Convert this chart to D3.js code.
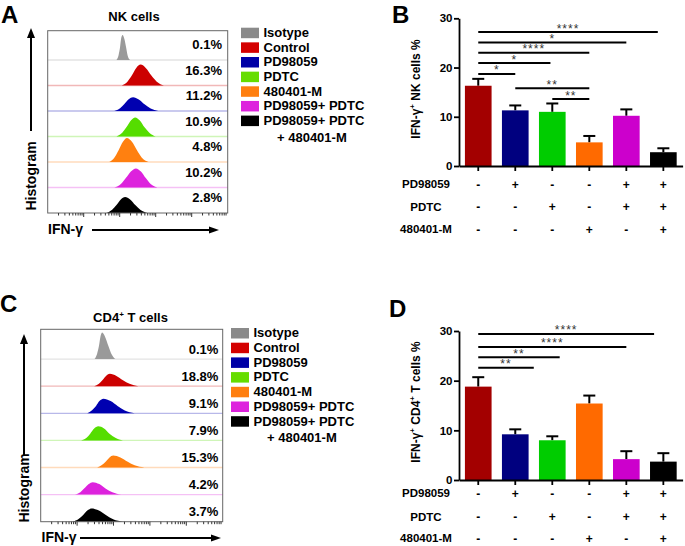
<!DOCTYPE html>
<html><head><meta charset="utf-8">
<script src="https://cdn.jsdelivr.net/npm/d3@7"></script>
<style>
html,body{margin:0;padding:0;background:#fff;}
svg{display:block;}
</style></head><body>
<svg id="chart" width="685" height="546"></svg>
<script>
// ---------------- DATA ----------------
const legendLabels = ["Isotype","Control","PD98059","PDTC","480401-M","PD98059+ PDTC","PD98059+ PDTC\n+ 480401-M"];
const legendColors = ["#8a8a8a","#d40000","#0000a6","#66dd00","#ff7f10","#dd22dd","#000000"];
const histColors   = ["#9a9a9a","#cc0000","#0000b0","#55dd00","#ff8010","#dd22dd","#000000"];

const nkPercent  = ["0.1%","16.3%","11.2%","10.9%","4.8%","10.2%","2.8%"];
const cd4Percent = ["0.1%","18.8%","9.1%","7.9%","15.3%","4.2%","3.7%"];

// histogram outlines: [IFN-γ (decades), height (fraction of row)]
const nkPeaks = [
  [[1.91,0],[1.97,.2],[2.01,.5],[2.04,.84],[2.08,.98],[2.13,.82],[2.18,.48],[2.22,.18],[2.29,0]],
  [[2.06,0],[2.22,.16],[2.34,.40],[2.46,.69],[2.58,.82],[2.73,.68],[2.88,.39],[3.03,.15],[3.23,0]],
  [[1.85,0],[2.01,.11],[2.13,.27],[2.25,.46],[2.37,.54],[2.53,.45],[2.69,.26],[2.86,.10],[3.07,0]],
  [[1.91,0],[2.07,.15],[2.19,.37],[2.31,.63],[2.43,.75],[2.56,.63],[2.69,.36],[2.83,.14],[3.00,0]],
  [[1.71,0],[1.86,.19],[1.97,.46],[2.09,.79],[2.20,.94],[2.34,.79],[2.48,.46],[2.61,.18],[2.80,0]],
  [[1.85,0],[2.04,.15],[2.17,.37],[2.31,.63],[2.45,.75],[2.59,.63],[2.73,.36],[2.86,.14],[3.05,0]],
  [[1.63,0],[1.79,.13],[1.91,.31],[2.03,.53],[2.15,.63],[2.29,.53],[2.44,.30],[2.58,.12],[2.77,0]]
];
const cd4Peaks = [
  [[1.48,0],[1.55,.2],[1.60,.48],[1.64,.82],[1.69,.98],[1.77,.82],[1.86,.48],[1.94,.2],[2.05,0]],
  [[1.47,0],[1.60,.09],[1.70,.23],[1.80,.39],[1.90,.46],[2.08,.38],[2.26,.22],[2.44,.09],[2.68,0]],
  [[1.28,0],[1.41,.11],[1.52,.27],[1.62,.46],[1.72,.54],[1.92,.45],[2.12,.26],[2.31,.10],[2.58,0]],
  [[1.11,0],[1.26,.10],[1.36,.25],[1.47,.44],[1.58,.52],[1.74,.44],[1.89,.25],[2.05,.10],[2.26,0]],
  [[1.55,0],[1.68,.09],[1.79,.22],[1.89,.37],[1.99,.44],[2.19,.37],[2.39,.21],[2.58,.08],[2.85,0]],
  [[0.94,0],[1.09,.09],[1.20,.23],[1.32,.39],[1.43,.46],[1.61,.39],[1.79,.22],[1.97,.09],[2.21,0]],
  [[0.88,0],[1.04,.10],[1.16,.24],[1.28,.41],[1.40,.49],[1.60,.41],[1.80,.24],[1.99,.09],[2.26,0]]
];

const barGroups = ["Control","PD98059","PDTC","480401-M","PD98059+ PDTC","PD98059+ PDTC + 480401-M"];
const barColors = ["#a30000","#00007f","#00cc00","#ff6a00","#cc00cc","#000000"];
const nkMean  = [16.3, 11.3, 11.0, 4.8, 10.2, 2.8];
const nkSem   = [1.4, 1.0, 1.7, 1.3, 1.3, 0.8];
const cd4Mean = [18.8, 9.2, 8.0, 15.4, 4.2, 3.7];
const cd4Sem  = [1.9, 1.0, 0.8, 1.6, 1.6, 1.7];
const yTicks = [0, 10, 20, 30];

const treatmentNames = ["PD98059","PDTC","480401-M"];
const pd98059Signs = ["-","+","-","-","+","+"];
const pdtcSigns    = ["-","-","+","-","+","+"];
const m480401Signs = ["-","-","-","+","-","+"];

// significance brackets: from/to bar index, height (% units), label
const nkCompFrom  = [0, 0, 0, 0, 0, 1, 2];
const nkCompTo    = [4.85, 4, 3, 1.95, 1, 3, 3];
const nkCompY     = [27.2, 25.1, 23.0, 20.9, 18.7, 15.8, 13.6];
const nkCompLabel = ["****","*","****","*","*","**","**"];
const cd4CompFrom  = [0, 0, 0, 0];
const cd4CompTo    = [4.75, 4, 2.2, 1.5];
const cd4CompY     = [29.4, 26.8, 24.7, 22.6];
const cd4CompLabel = ["****","****","**","**"];

// ---------------- DRAW ----------------
const FONT = '"Liberation Sans", Arial, Helvetica, sans-serif';
const svg = d3.select("#chart").style("font-family", FONT);

function txt(g, x, y, s, size, opts = {}) {
  return g.append("text").attr("x", x).attr("y", y)
    .attr("font-size", size).attr("font-weight", opts.weight || "bold")
    .attr("text-anchor", opts.anchor || "start").attr("fill", opts.fill || "#000").text(s);
}

function arrowUp(g, x, y1, tip) {
  g.append("line").attr("x1", x).attr("x2", x).attr("y1", y1).attr("y2", tip + 9)
    .attr("stroke", "#000").attr("stroke-width", 2);
  g.append("path").attr("d", `M${x},${tip}L${x - 4},${tip + 10}L${x + 4},${tip + 10}Z`).attr("fill", "#000");
}
function arrowRight(g, x1, tip, y) {
  g.append("line").attr("x1", x1).attr("x2", tip - 9).attr("y1", y).attr("y2", y)
    .attr("stroke", "#000").attr("stroke-width", 2);
  g.append("path").attr("d", `M${tip},${y}L${tip - 10},${y - 3.5}L${tip - 10},${y + 3.5}Z`).attr("fill", "#000");
}

function drawHistogram(p) {
  const g = svg.append("g");
  const x = d3.scaleLinear().domain([0, 5]).range([p.left, p.right]);
  const rows = d3.scaleBand().domain(d3.range(legendLabels.length)).range([p.top + p.topPad, p.bottom]);
  const h = rows.bandwidth();

  // faint coloured baselines
  g.selectAll("line.base").data(d3.range(legendLabels.length - 1)).join("line")
    .attr("x1", p.left).attr("x2", p.right)
    .attr("y1", i => rows(i) + h).attr("y2", i => rows(i) + h)
    .attr("stroke", i => d3.interpolateRgb(histColors[i], "#fff")(0.72)).attr("stroke-width", 1.3);

  const area = d3.area().x(d => x(d[0])).curve(d3.curveMonotoneX);
  p.peaks.forEach((pts, i) => {
    const base = rows(i) + h;
    g.append("path")
      .attr("d", area.y0(base).y1(d => base - d[1] * h)(pts))
      .attr("fill", histColors[i]);
  });

  // percentages
  p.percent.forEach((s, i) => txt(g, p.pctRight, rows(i) + h - p.pctLift, s, 13, { anchor: "end" }));

  // frame
  g.append("rect").attr("x", p.left).attr("y", p.top).attr("width", p.right - p.left)
    .attr("height", p.bottom - p.top).attr("fill", "none").attr("stroke", "#666").attr("stroke-width", 1);

  // log-like ticks under the frame
  const tickVals = [];
  for (let d = 0; d < 5; d++) for (let m = 1; m <= 9; m++) tickVals.push(d + Math.log10(m));
  g.selectAll("line.tk").data(tickVals.filter(v => v > 0.15)).join("line")
    .attr("x1", v => x(v)).attr("x2", v => x(v))
    .attr("y1", p.bottom).attr("y2", v => p.bottom + (Math.abs(v - Math.round(v)) < 1e-6 ? 4 : 2.5))
    .attr("stroke", "#333").attr("stroke-width", 1);

  // axis arrows and labels
  arrowUp(g, p.yArrowX, p.yArrowFrom, p.yArrowTip);
  g.append("text").attr("transform", `translate(${p.yArrowX + 5},${p.histLabelY}) rotate(-90)`)
    .attr("text-anchor", "middle").attr("font-size", 14).attr("font-weight", "bold").text("Histogram");
  txt(g, p.ifnX, p.ifnY, "IFN-γ", 14);
  arrowRight(g, p.xArrowFrom, p.xArrowTip, p.ifnY - 4);

  // title
  const t = g.append("text").attr("x", p.titleX).attr("y", p.titleY).attr("text-anchor", "middle")
    .attr("font-size", 13).attr("font-weight", "bold");
  p.title.forEach(part => {
    const ts = t.append("tspan").text(part.t);
    if (part.sup) ts.attr("font-size", 8).attr("dy", -5);
    else if (part.after) ts.attr("dy", 5);
  });

  // panel letter
  txt(g, p.letterX, p.letterY, p.letter, 24);

  // legend
  legendLabels.forEach((lab, i) => {
    const cy = p.legTop + i * p.legStep;
    g.append("rect").attr("x", p.legX).attr("y", cy - 5).attr("width", 18).attr("height", 10.5).attr("fill", legendColors[i]);
    const lines = lab.split("\n");
    txt(g, p.legX + 22.5, cy + 4.3, lines[0], 13);
    if (lines[1]) txt(g, p.legX + 36, cy + 4.3 + p.legExtra, lines[1], 13);
  });
}

function drawBars(p) {
  const g = svg.append("g");
  const x = d3.scaleBand().domain(barGroups).range([459, 682.6]).paddingInner(0.28).paddingOuter(0.16);
  const y = d3.scaleLinear().domain([0, 30]).range([p.y0, p.y30]);
  const bw = x.bandwidth(), step = x.step();
  const cx = i => x(barGroups[0]) + bw / 2 + i * step;
  const idx = d3.range(barGroups.length);

  // error bars (upper)
  g.selectAll("line.eb").data(idx).join("line")
    .attr("x1", cx).attr("x2", cx)
    .attr("y1", i => y(p.mean[i])).attr("y2", i => y(p.mean[i] + p.sem[i]))
    .attr("stroke", "#000").attr("stroke-width", 2);
  g.selectAll("line.cap").data(idx).join("line")
    .attr("x1", i => cx(i) - 6).attr("x2", i => cx(i) + 6)
    .attr("y1", i => y(p.mean[i] + p.sem[i])).attr("y2", i => y(p.mean[i] + p.sem[i]))
    .attr("stroke", "#000").attr("stroke-width", 2);

  g.selectAll("rect.bar").data(idx).join("rect")
    .attr("x", i => x(barGroups[i])).attr("width", bw)
    .attr("y", i => y(p.mean[i])).attr("height", i => y(0) - y(p.mean[i]))
    .attr("fill", i => barColors[i]);

  // axes
  const ya = g.append("g").attr("transform", "translate(459,0)")
    .call(d3.axisLeft(y).tickValues(yTicks).tickSize(5).tickSizeOuter(0).tickPadding(1.5));
  ya.selectAll("path,line").attr("stroke", "#000").attr("stroke-width", 1.8);
  ya.selectAll("text").attr("font-size", 11.5).attr("font-weight", "bold").attr("font-family", FONT).attr("fill", "#000");

  const xa = g.append("g").attr("transform", `translate(0,${p.y0})`)
    .call(d3.axisBottom(x).tickSize(5).tickSizeOuter(0).tickFormat(() => ""));
  xa.selectAll("path,line").attr("stroke", "#000").attr("stroke-width", 1.8);

  // y title
  const yt = g.append("text").attr("transform", `translate(${p.yTitleX},${p.yTitleY}) rotate(-90)`)
    .attr("text-anchor", "middle").attr("font-size", 12).attr("font-weight", "bold");
  p.yTitle.forEach(part => {
    const ts = yt.append("tspan").text(part.t);
    if (part.sup) ts.attr("font-size", 8).attr("dy", -5);
    else if (part.after) ts.attr("dy", 5);
  });

  // significance brackets
  p.compFrom.forEach((f, k) => {
    const x1 = cx(f), x2 = cx(p.compTo[k]), yy = y(p.compY[k]);
    g.append("line").attr("x1", x1).attr("x2", x2).attr("y1", yy).attr("y2", yy)
      .attr("stroke", "#000").attr("stroke-width", 2);
    g.append("text").attr("x", (x1 + x2) / 2).attr("y", yy + 0.5).attr("text-anchor", "middle")
      .attr("font-size", 12).attr("fill", "#333").attr("letter-spacing", 1).text(p.compLabel[k]);
  });

  // treatment table
  const signs = [pd98059Signs, pdtcSigns, m480401Signs];
  treatmentNames.forEach((name, r) => {
    txt(g, 426, p.rowY[r], name, 11.5, { anchor: "middle" }).attr("dy", "0.35em");
    signs[r].forEach((s, i) => txt(g, cx(i), p.rowY[r], s, 12, { anchor: "middle" }).attr("dy", "0.35em"));
  });

  txt(g, p.letterX, p.letterY, p.letter, 24);
}

drawHistogram({
  left: 47.7, right: 227.7, top: 30.7, bottom: 213, topPad: 3.8,
  peaks: nkPeaks, percent: nkPercent, pctRight: 222, pctLift: 11,
  yArrowX: 31, yArrowFrom: 131, yArrowTip: 28, histLabelY: 176,
  ifnX: 48, ifnY: 234, xArrowFrom: 92, xArrowTip: 219,
  title: [{ t: "NK cells" }], titleX: 134, titleY: 20.7,
  letter: "A", letterX: 1, letterY: 22.5,
  legX: 241, legTop: 32.7, legStep: 14.65, legExtra: 17.5
});
drawHistogram({
  left: 40.7, right: 222.7, top: 329.3, bottom: 521.7, topPad: 2.7,
  peaks: cd4Peaks, percent: cd4Percent, pctRight: 218.3, pctLift: 5.5,
  yArrowX: 24, yArrowFrom: 456, yArrowTip: 334, histLabelY: 488,
  ifnX: 41.5, ifnY: 542, xArrowFrom: 80, xArrowTip: 221,
  title: [{ t: "CD4" }, { t: "+", sup: true }, { t: " T cells", after: true }], titleX: 130.5, titleY: 321.7,
  letter: "C", letterX: 0, letterY: 312,
  legX: 231, legTop: 333, legStep: 14.7, legExtra: 16.3
});
drawBars({
  y0: 166, y30: 18.3, mean: nkMean, sem: nkSem,
  compFrom: nkCompFrom, compTo: nkCompTo, compY: nkCompY, compLabel: nkCompLabel,
  yTitle: [{ t: "IFN-γ" }, { t: "+", sup: true }, { t: " NK cells %", after: true }], yTitleX: 420, yTitleY: 89,
  rowY: [184.3, 206.7, 229.3], letter: "B", letterX: 392, letterY: 22.5
});
drawBars({
  y0: 480, y30: 331, mean: cd4Mean, sem: cd4Sem,
  compFrom: cd4CompFrom, compTo: cd4CompTo, compY: cd4CompY, compLabel: cd4CompLabel,
  yTitle: [{ t: "IFN-γ" }, { t: "+", sup: true }, { t: " CD4", after: true }, { t: "+", sup: true }, { t: " T cells %", after: true }],
  yTitleX: 419.5, yTitleY: 402,
  rowY: [493.3, 516.7, 538.3], letter: "D", letterX: 389, letterY: 316.5
});
</script>
</body></html>
